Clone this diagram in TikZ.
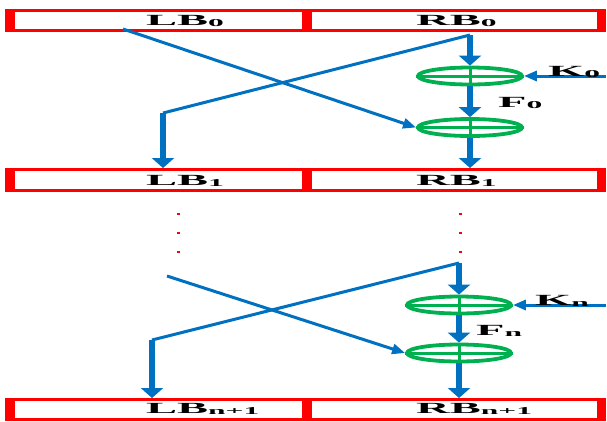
\documentclass[tikz,border=0pt]{standalone}
\usepackage{fontspec}
\usepackage{graphicx}
\setmainfont{Liberation Serif}
\usetikzlibrary{arrows.meta,shapes.geometric}
\definecolor{myblue}{HTML}{0070C0}
\definecolor{mygreen}{HTML}{00B050}
\definecolor{myred}{HTML}{FF0000}
\newcommand{\lbl}[2]{\scalebox{3.0}[1]{\fontsize{15.5}{15.5}\selectfont\bfseries #1\raisebox{-1pt}{\fontsize{10.5}{10.5}\selectfont #2}}}
\tikzset{
  regbox/.style={draw=myred, line width=3pt, rectangle, inner sep=0pt, minimum height=20pt},
  bar/.style={fill=myred, draw=none},
  xorop/.style={draw=mygreen, line width=3.8pt, ellipse, inner sep=0pt, minimum width=104pt, minimum height=17pt},
  xorcross/.style={draw=mygreen, line width=3pt},
  thickarrow/.style={draw=myblue, line width=6.5pt, -{Triangle[width=22pt,length=10pt]}},
  thinline/.style={draw=myblue, line width=3pt},
  thinarrow/.style={draw=myblue, line width=3pt, -{Triangle[width=10pt,length=13pt]}},
  txt/.style={inner sep=0pt, anchor=base west, text=black},
  dot/.style={fill=myred, draw=none}
}
\begin{document}
\begin{tikzpicture}[x=1pt,y=-1pt]
\useasboundingbox (0,0) rectangle (607,421);
% register boxes
\node[regbox, minimum width=300.5pt] (LB0) at (156.75,20.5) {};
\node[regbox, minimum width=297.5pt] (RB0) at (455.75,20.5) {};
\node[regbox, minimum width=300.5pt, minimum height=21pt] (LB1) at (156.75,180) {};
\node[regbox, minimum width=297.5pt, minimum height=21pt] (RB1) at (455.75,180) {};
\node[regbox, minimum width=300.5pt] (LBn) at (156.75,409.5) {};
\node[regbox, minimum width=297.5pt] (RBn) at (455.75,409.5) {};
\foreach \ya/\yb in {9/32, 168/192, 398/421} {
  \path[bar] (5,\ya) rectangle (15,\yb);
  \path[bar] (302,\ya) rectangle (312,\yb);
  \path[bar] (597,\ya) rectangle (606,\yb);
}
% labels
\node[txt] (tLB0) at (146,25) {\lbl{LB}{0}};
\node[txt] (tRB0) at (416,25) {\lbl{RB}{0}};
\node[txt] (tLB1) at (146,185) {\lbl{LB}{1}};
\node[txt] (tRB1) at (416,185) {\lbl{RB}{1}};
\node[txt] (tLBn) at (146,413) {\lbl{LB}{n+1}};
\node[txt] (tRBn) at (416,413) {\lbl{RB}{n+1}};

% ---- round 0 ----
\node[xorop] (X0a) at (470,76) {};
\node[xorop] (X0b) at (470,127.5) {};
\coordinate (c0) at (470,35);
\coordinate (d0) at (163,113);
\coordinate (s0) at (123,29);
\coordinate (k0) at (606,76);
\draw[thinline] (c0) -- (d0);
\draw[thickarrow] (d0) -- (d0 |- LB1.north);
\draw[thinarrow] (s0) -- (X0b.west);
\draw[thickarrow] (c0) -- (X0a.north);
\draw[thickarrow] (X0a.south) -- (X0b.north);
\draw[thickarrow] (X0b.south) -- (X0b.south |- RB1.north);
\draw[thinarrow] (k0) -- (X0a.east);
\foreach \x in {X0a, X0b} {
  \draw[xorcross] (\x.west) -- (\x.east);
  \draw[xorcross] ([yshift=-1.9pt]\x.north) -- ([yshift=1.9pt]\x.south);
}
\node[txt] (K0) at (548,76) {\lbl{K}{0}};
\node[txt] (F0) at (498,107) {\lbl{F}{0}};

% dots
\foreach \y in {214,233,252} {
  \path[dot] (176.5,\y-1) rectangle (179.5,\y+1);
  \path[dot] (458.5,\y-1) rectangle (461.5,\y+1);
}

% ---- round n ----
\node[xorop] (Xna) at (459,305) {};
\node[xorop] (Xnb) at (459,353) {};
\coordinate (c1) at (459,263);
\coordinate (d1) at (152,340);
\coordinate (s1) at (167,276);
\coordinate (k1) at (606,305);
\draw[thinline] (c1) -- (d1);
\draw[thickarrow] (d1) -- (d1 |- LBn.north);
\draw[thinarrow] (s1) -- (Xnb.west);
\draw[thickarrow] (c1) -- (Xna.north);
\draw[thickarrow] (Xna.south) -- (Xnb.north);
\draw[thickarrow] (Xnb.south) -- (Xnb.south |- RBn.north);
\draw[thinarrow] (k1) -- (Xna.east);
\foreach \x in {Xna, Xnb} {
  \draw[xorcross] (\x.west) -- (\x.east);
  \draw[xorcross] ([yshift=-1.9pt]\x.north) -- ([yshift=1.9pt]\x.south);
}
\node[txt] (Kn) at (535,305) {\lbl{K}{n}};
\node[txt] (Fn) at (476,335) {\lbl{F}{n}};
\end{tikzpicture}
\end{document}
